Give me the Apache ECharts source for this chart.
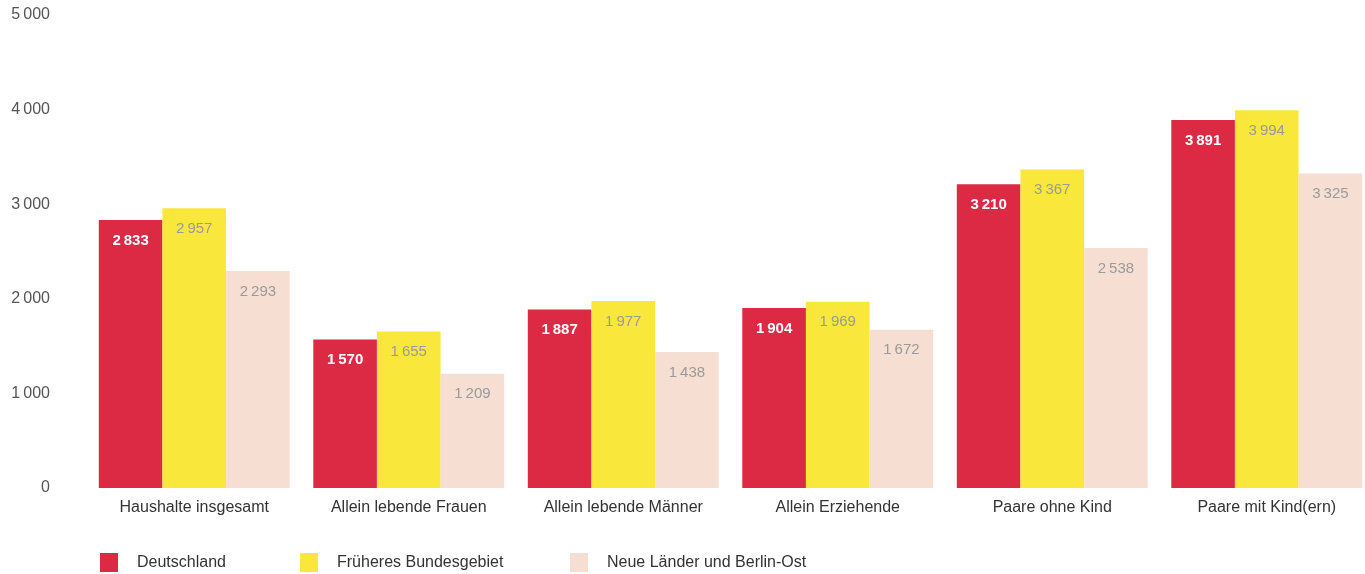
<!DOCTYPE html>
<html>
<head>
<meta charset="utf-8">
<script src="https://cdn.jsdelivr.net/npm/echarts@6/dist/echarts.min.js"></script>
<style>
  html, body { margin: 0; padding: 0; background: #ffffff; }
  #chart { width: 1365px; height: 574px; }
</style>
</head>
<body>
<div id="chart"></div>
<script>
// Household categories along the x axis
const categories = [
  'Haushalte insgesamt',
  'Allein lebende Frauen',
  'Allein lebende Männer',
  'Allein Erziehende',
  'Paare ohne Kind',
  'Paare mit Kind(ern)'
];

// Series names
const seriesNames = ['Deutschland', 'Früheres Bundesgebiet', 'Neue Länder und Berlin-Ost'];

// Values per series
const deutschland = [2833, 1570, 1887, 1904, 3210, 3891];
const frueheresBundesgebiet = [2957, 1655, 1977, 1969, 3367, 3994];
const neueLaender = [2293, 1209, 1438, 1672, 2538, 3325];

// Y axis ticks
const yTicks = [0, 1000, 2000, 3000, 4000, 5000];

const colors = ['#dc2a45', '#f9e73c', '#f7ded3'];
const FONT = "'Liberation Sans', Arial, Helvetica, sans-serif";

// Thousands separated by a narrow space
function fmt(v) {
  return String(v).replace(/\B(?=(\d{3})+(?!\d))/g, '\u2009');
}

const chart = echarts.init(document.getElementById('chart'), null, { renderer: 'canvas' });

function barSeries(name, data, color, labelColor, bold) {
  return {
    name: name,
    type: 'bar',
    data: data,
    barGap: '0%',
    barCategoryGap: '11%',
    itemStyle: { color: color },
    label: {
      show: true,
      position: 'insideTop',
      distance: 13,
      color: labelColor,
      fontFamily: FONT,
      fontSize: 15,
      fontWeight: bold ? 'bold' : 'normal',
      formatter: p => fmt(p.value)
    },
    emphasis: { disabled: true }
  };
}

// One legend entry each, placed individually along the bottom
const legendLefts = [100, 300, 570];
const legends = seriesNames.map((name, i) => ({
  left: legendLefts[i],
  top: 553,
  padding: 0,
  itemWidth: 18,
  itemHeight: 19,
  icon: 'rect',
  selectedMode: false,
  data: [name],
  textStyle: {
    color: '#333333',
    fontFamily: FONT,
    fontSize: 16,
    padding: [6, 0, 0, 14]
  }
}));

chart.setOption({
  animation: false,
  backgroundColor: '#ffffff',
  grid: {
    left: 87, top: 15, width: 1287, bottom: 86,
    containLabel: false,
    outerBoundsMode: 'none'
  },
  xAxis: {
    type: 'category',
    data: categories,
    axisLine: { show: false },
    axisTick: { show: false },
    axisLabel: {
      margin: 12,
      color: '#333333',
      fontFamily: FONT,
      fontSize: 16
    }
  },
  yAxis: {
    type: 'value',
    min: yTicks[0],
    max: yTicks[yTicks.length - 1],
    interval: yTicks[1] - yTicks[0],
    axisLine: { show: false },
    axisTick: { show: false },
    splitLine: { show: false },
    axisLabel: {
      margin: 37,
      color: '#555555',
      fontFamily: FONT,
      fontSize: 16,
      formatter: v => fmt(v)
    }
  },
  legend: legends,
  series: [
    barSeries(seriesNames[0], deutschland, colors[0], '#ffffff', true),
    barSeries(seriesNames[1], frueheresBundesgebiet, colors[1], '#9a9a9a', false),
    barSeries(seriesNames[2], neueLaender, colors[2], '#9a9a9a', false)
  ]
});
</script>
</body>
</html>
